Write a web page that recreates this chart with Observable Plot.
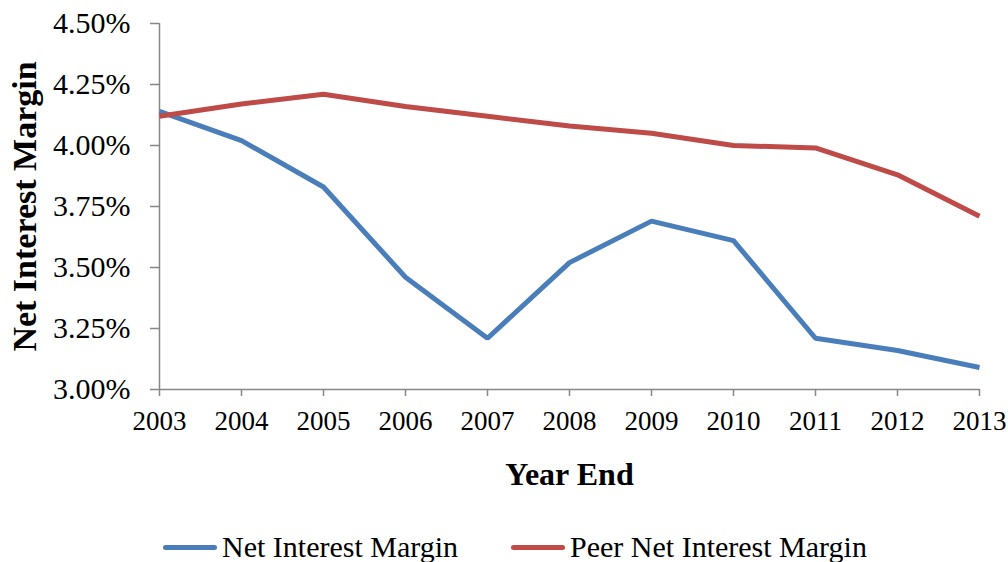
<!DOCTYPE html>
<html>
<head>
<meta charset="utf-8">
<script src="https://cdn.jsdelivr.net/npm/d3@7"></script>
<script src="https://cdn.jsdelivr.net/npm/@observablehq/plot@0.6"></script>
<style>
  html, body { margin: 0; padding: 0; background: #fff; }
  body { width: 1008px; height: 562px; overflow: hidden; font-family: "Liberation Serif", "Times New Roman", "DejaVu Serif", serif; }
  #chart svg text { font-family: "Liberation Serif", "Times New Roman", "DejaVu Serif", serif; }
  [aria-label="y-axis tick label"] { font-size: 30px; }
  [aria-label="x-axis tick label"] { font-size: 27px; }
  [aria-label="x-axis label"] { font-size: 32px; font-weight: bold; }
  [aria-label="y-axis label"] { font-size: 34px; font-weight: bold; }
  #legend { display: flex; align-items: center; margin-top: 40px; margin-left: 163px; font-size: 30px; line-height: 30px; color: #000; }
  .item { display: flex; align-items: center; }
  .sw { width: 54px; height: 5px; border-radius: 3px; margin-right: 5px; }
</style>
</head>
<body>
<div id="chart"></div>
<div id="legend"></div>
<script>
const years = [2003, 2004, 2005, 2006, 2007, 2008, 2009, 2010, 2011, 2012, 2013];
const nim = [4.14, 4.02, 3.83, 3.46, 3.21, 3.52, 3.69, 3.61, 3.21, 3.16, 3.09];
const peerNim = [4.12, 4.17, 4.21, 4.16, 4.12, 4.08, 4.05, 4.00, 3.99, 3.88, 3.71];
const seriesNames = ["Net Interest Margin", "Peer Net Interest Margin"];
const seriesColors = ["#4a7ebb", "#be4b48"];
const yTicks = [3.00, 3.25, 3.50, 3.75, 4.00, 4.25, 4.50];

const rows = [];
years.forEach((yr, i) => {
  rows.push({year: yr, value: nim[i], series: seriesNames[0]});
  rows.push({year: yr, value: peerNim[i], series: seriesNames[1]});
});

const serif = '"Liberation Serif", "Times New Roman", "DejaVu Serif", serif';
const axisGray = "#878787";
const plot = Plot.plot({
  width: 1008,
  height: 492,
  marginTop: 23,
  marginBottom: 103,
  marginLeft: 159,
  marginRight: 29,
  style: {fontFamily: serif, background: "#fff", color: "#000"},
  x: {domain: [2003, 2013]},
  y: {domain: [3.0, 4.5]},
  color: {domain: seriesNames, range: seriesColors},
  marks: [
    Plot.ruleY([3.0], {stroke: axisGray, strokeWidth: 1.5}),
    Plot.ruleX([2003], {stroke: axisGray, strokeWidth: 1.5}),
    Plot.axisY({ticks: yTicks, tickFormat: d => d.toFixed(2) + "%", tickSize: 9, tickPadding: 20, stroke: axisGray, strokeWidth: 1.5, fill: "#000",
      label: "Net Interest Margin", labelAnchor: "center", labelArrow: "none", labelOffset: 148}),
    Plot.axisX({ticks: years, tickFormat: d => String(d), tickSize: 7, tickPadding: 14, stroke: axisGray, strokeWidth: 1.5, fill: "#000",
      label: "Year End", labelAnchor: "center", labelArrow: "none", labelOffset: 95}),
    Plot.line(rows, {x: "year", y: "value", z: "series", stroke: "series", strokeWidth: 5, strokeLinejoin: "miter", strokeLinecap: "butt"})
  ]
});
document.getElementById("chart").appendChild(plot);

const legend = document.getElementById("legend");
seriesNames.forEach((name, i) => {
  const item = document.createElement("div");
  item.className = "item";
  if (i > 0) item.style.marginLeft = "53px";
  const sw = document.createElement("span");
  sw.className = "sw";
  sw.style.background = seriesColors[i];
  const t = document.createElement("span");
  t.textContent = name;
  item.appendChild(sw);
  item.appendChild(t);
  legend.appendChild(item);
});
</script>
</body>
</html>
